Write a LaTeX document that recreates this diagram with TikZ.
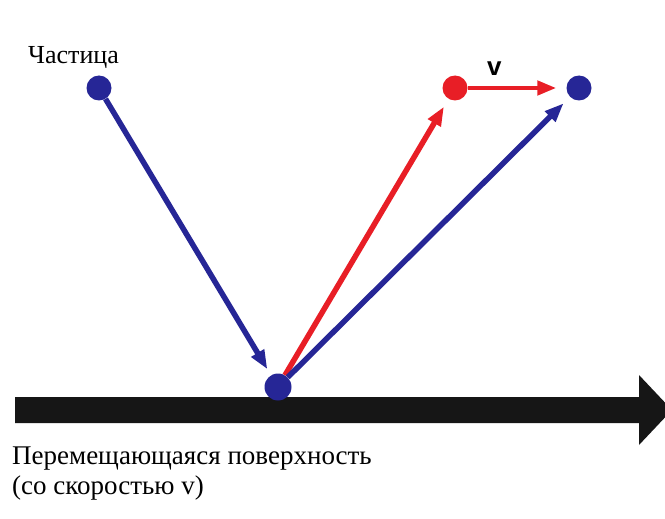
\documentclass[tikz,border=0pt]{standalone}
\usepackage{fontspec}
\setmainfont{Liberation Serif}
\newfontfamily\labelsans{Liberation Sans}
\usetikzlibrary{arrows.meta}
\definecolor{dotblue}{RGB}{38,38,150}
\definecolor{dotred}{RGB}{232,30,38}
\definecolor{barblack}{RGB}{22,22,22}
\tikzset{
  dot/.style={circle, fill=#1, inner sep=0pt, minimum size=25pt},
  vec/.style={draw=#1, line width=5.5pt, -{Triangle[length=19pt,width=14pt]}},
  caption/.style={anchor=base west, inner sep=0pt, font=\fontsize{27}{29}\selectfont},
}
\begin{document}
\begin{tikzpicture}[x=1pt,y=-1pt]
\useasboundingbox (0,0) rectangle (665,519);
\fill[white] (0,0) rectangle (665,519);
% moving surface
\begin{scope}
\clip (0,0) rectangle (665,519);
\fill[barblack] (15,397) -- (639,397) -- (639,375) -- (672,410) -- (639,445) -- (639,423) -- (15,423) -- cycle;
\end{scope}
% dots
\node[dot=dotblue] (p0) at (99,88) {};
\node[dot=dotblue, minimum size=27pt] (p1) at (278,387) {};
\node[dot=dotred] (pr) at (455,88) {};
\node[dot=dotblue] (pb) at (579,88) {};
% vectors
\draw[vec=dotblue, shorten >=7pt] (p0) -- (p1);
\draw[vec=dotred, shorten >=9pt] (p1) -- (pr);
\draw[vec=dotblue, shorten >=9pt] (p1) -- (pb);
\draw[vec=dotred, line width=4.5pt, shorten >=10pt] (pr) -- (pb);
% labels
\node[anchor=base west, inner sep=0pt, font=\fontsize{26}{30}\selectfont] (lp) at (28,64) {Частица};
\node[anchor=base west, inner sep=0pt, font=\labelsans\bfseries\fontsize{26}{30}\selectfont] (lv) at (487,76) {v};
\node[caption] (ls1) at (12,464) {Перемещающаяся поверхность};
\node[caption] (ls2) at (12,494) {(со скоростью v)};
\end{tikzpicture}
\end{document}
